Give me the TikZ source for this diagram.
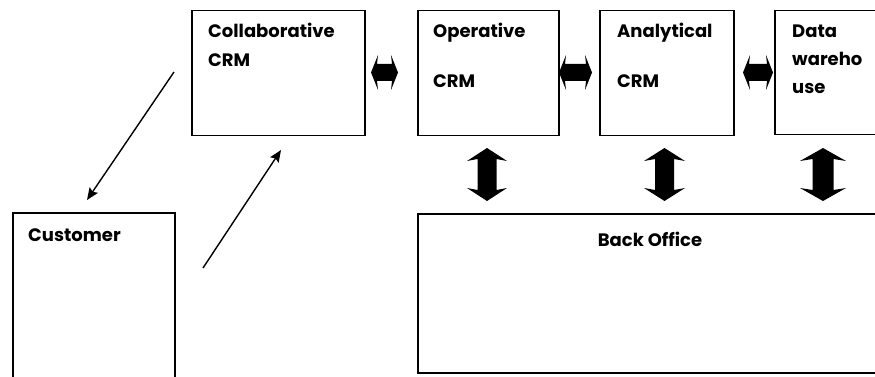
\documentclass[tikz,border=0pt]{standalone}
\usepackage{fontspec}
\setmainfont{Poppins}
\usetikzlibrary{arrows.meta}
\newcommand\hdblarrow[6]{% x0 x1 yc H s h
  \fill (#1,#3) -- (#1+#6+1,#3+#4/2) -- (#1+#6,#3+#5/2) -- (#2-#6,#3+#5/2) -- (#2-#6-1,#3+#4/2)
    -- (#2,#3) -- (#2-#6-1,#3-#4/2) -- (#2-#6,#3-#5/2) -- (#1+#6,#3-#5/2) -- (#1+#6+1,#3-#4/2) -- cycle;}
\newcommand\vdblarrow[6]{% y0 y1 xc W s h (y0 top, y1 bottom)
  \fill (#3,#1) -- (#3+#4/2,#1-#6-2) -- (#3+#5/2,#1-#6) -- (#3+#5/2,#2+#6) -- (#3+#4/2,#2+#6+2)
    -- (#3,#2) -- (#3-#4/2,#2+#6+2) -- (#3-#5/2,#2+#6) -- (#3-#5/2,#1-#6) -- (#3-#4/2,#1-#6-2) -- cycle;}
\begin{document}
\begin{tikzpicture}[x=1pt,y=1pt,
  box/.style={draw, line width=1.5pt, inner sep=0pt, anchor=north west},
  lbl/.style={font=\bfseries\fontsize{18}{20}\selectfont, inner sep=0pt, anchor=base west},
  thinarrow/.style={line width=1.4pt, -{Stealth[length=12pt,width=10pt,inset=2pt]}}]
\useasboundingbox (0,0) rectangle (875,-377);
% boxes
\node[box, minimum width=173pt, minimum height=125pt] (collab) at (191,-10) {};
\node[box, minimum width=141pt, minimum height=125pt] (oper) at (417,-10) {};
\node[box, minimum width=134pt, minimum height=125pt] (anal) at (599,-10) {};
\node[box, minimum width=120pt, minimum height=124pt] (dw) at (774,-10) {};
\node[box, minimum width=162pt, minimum height=180pt] (cust) at (12,-212) {};
\node[box, minimum width=480pt, minimum height=159pt] (back) at (417,-213) {};
% labels
\node[lbl] (t1) at (208,-38) {Collaborative};
\node[lbl] (t2) at (208,-67) {CRM};
\node[lbl] (t3) at (433,-38) {Operative};
\node[lbl] (t4) at (433,-88) {CRM};
\node[lbl] (t5) at (617,-38) {Analytical};
\node[lbl] (t6) at (617,-88) {CRM};
\node[lbl] (t7) at (792,-38) {Data};
\node[lbl] (t8) at (792,-66) {wareho};
\node[lbl] (t9) at (792,-94) {use};
\node[lbl] (t10) at (28,-241) {Customer};
\node[lbl, anchor=base] (t11) at (650,-246) {Back Office};
% thin arrows
\coordinate (a1s) at (174,-72);
\coordinate (a1e) at (87,-200);
\coordinate (a2s) at (203,-268);
\coordinate (a2e) at (281,-150);
\draw[thinarrow] (a1s) -- (a1e);
\draw[thinarrow] (a2s) -- (a2e);
% block arrows
\hdblarrow{371}{398}{-72.5}{35}{17}{6}
\hdblarrow{559}{592}{-72.5}{35}{17}{6}
\hdblarrow{743}{773}{-72.5}{35}{17}{6}
\vdblarrow{-148}{-201}{487}{40}{19}{11}
\vdblarrow{-148}{-201}{664.5}{41}{19}{11}
\vdblarrow{-148}{-201}{823}{46}{21}{11}
\end{tikzpicture}
\end{document}
